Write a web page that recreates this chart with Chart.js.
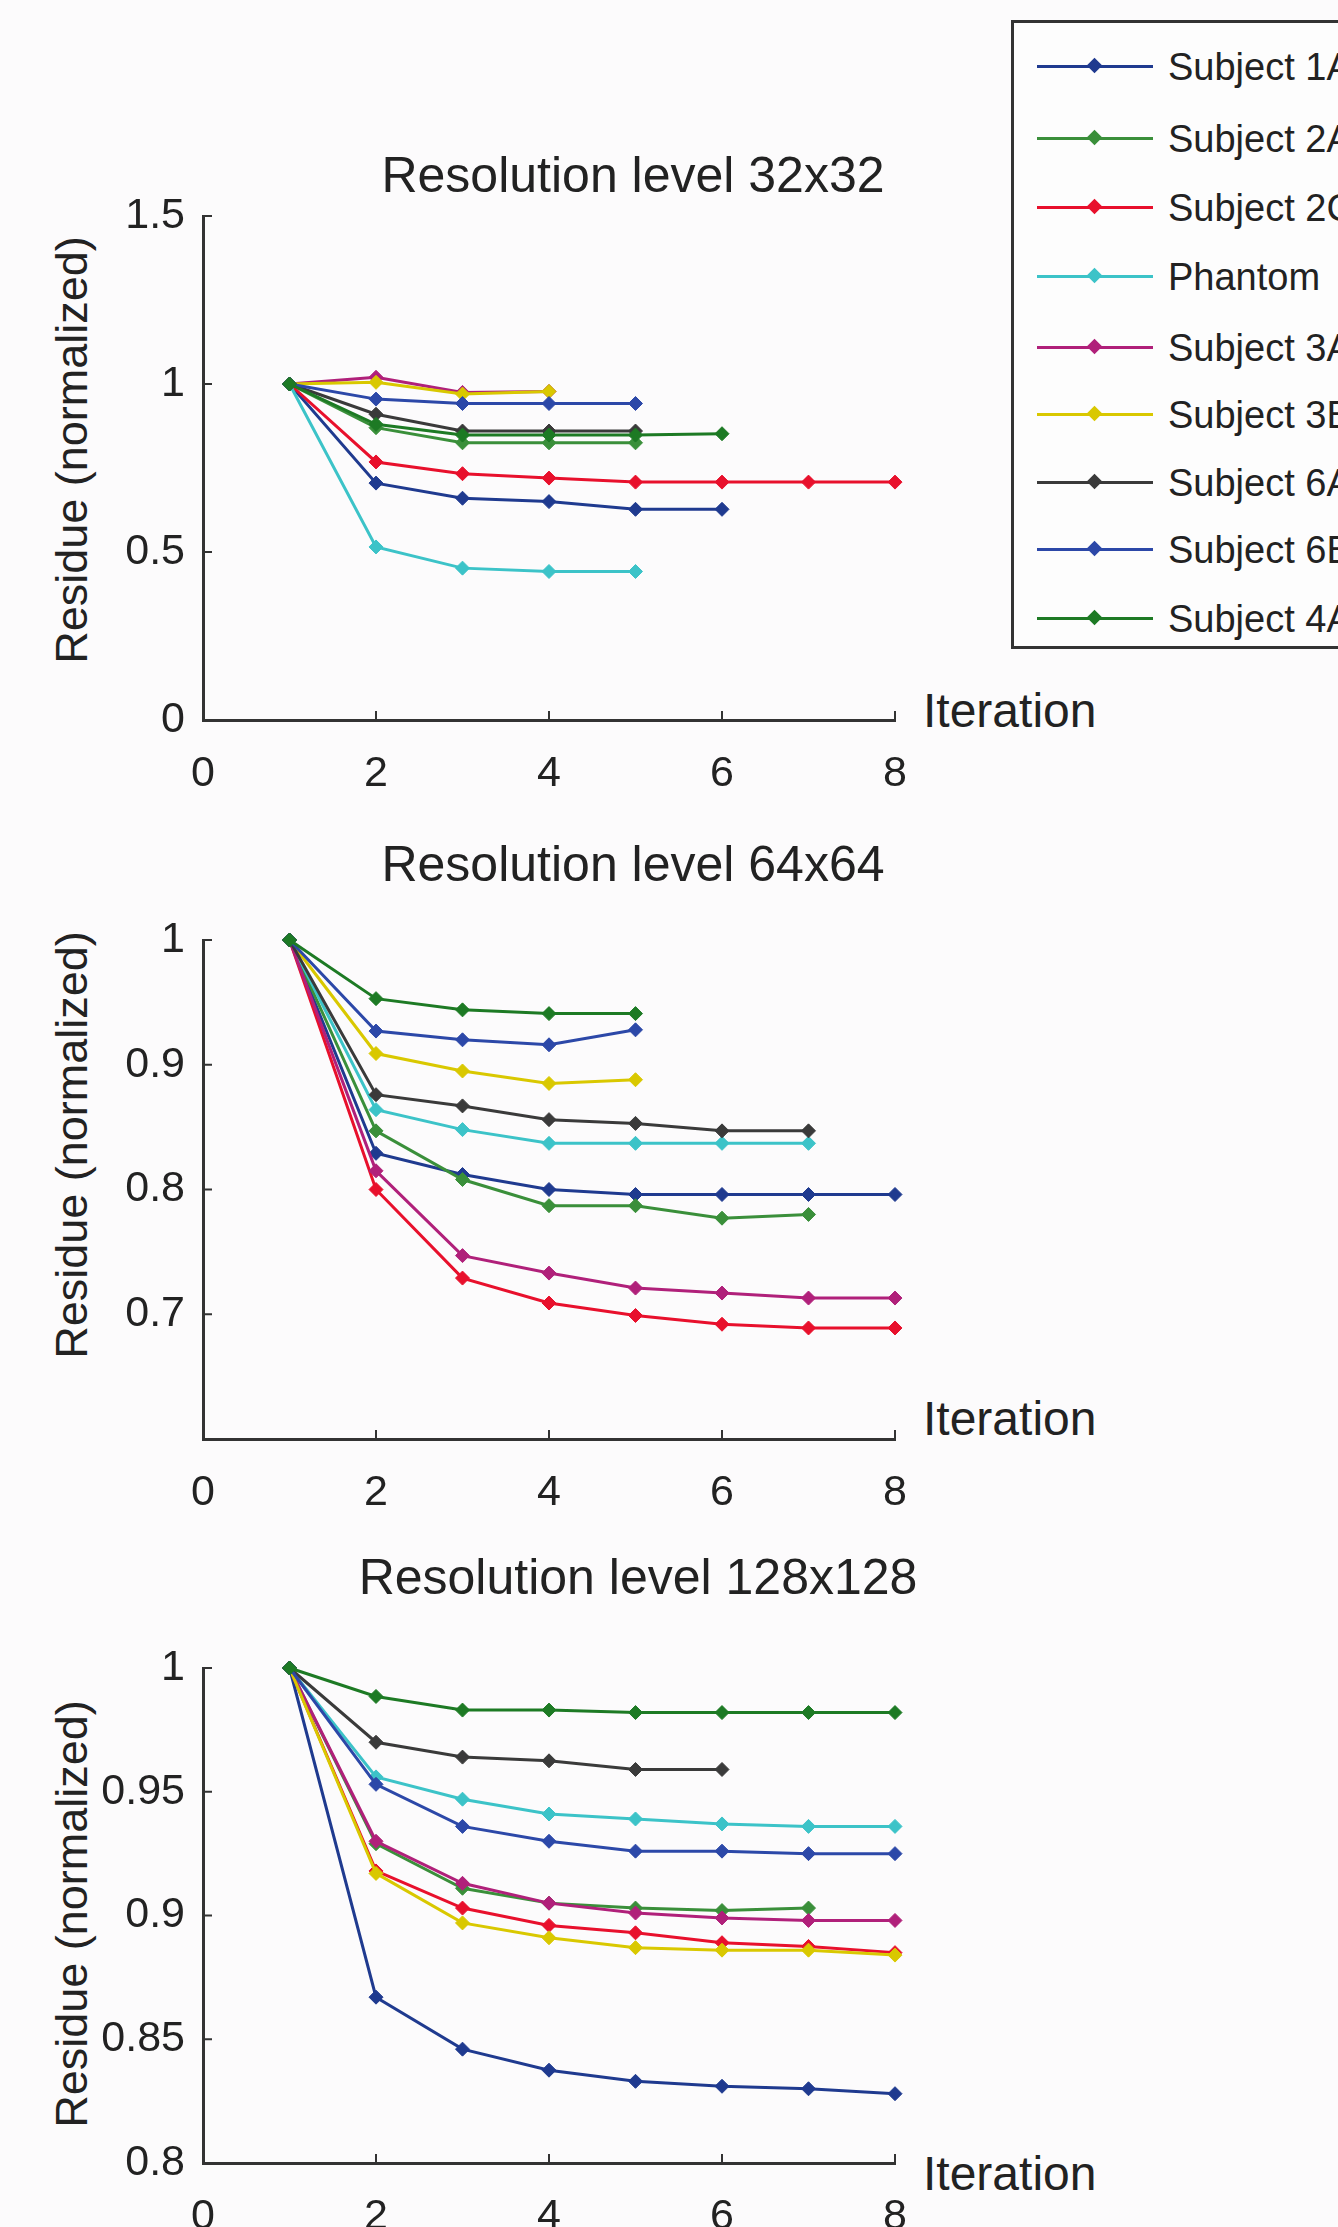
<!DOCTYPE html>
<html>
<head>
<meta charset="utf-8">
<script src="https://cdn.jsdelivr.net/npm/chart.js@4.4.0/dist/chart.umd.min.js"></script>
<style>
  body { margin: 0; width: 1338px; height: 2227px; overflow: hidden; position: relative;
         background: #fcfbfc; font-family: "Liberation Sans", Arial, sans-serif; color: #222; }
  canvas { position: absolute; left: 0; }
  .title { position: absolute; font-size: 50px; white-space: nowrap; transform: translate(-50%, -50%); }
  .ylabel { position: absolute; font-size: 45px; white-space: nowrap; transform: translate(-50%, -50%) rotate(-90deg); }
  .xlabel { position: absolute; font-size: 48px; white-space: nowrap; transform: translateY(-50%); }
  #legend { position: absolute; left: 1011px; top: 20px; width: 420px; height: 623px;
            border: 3px solid #333; background: #fdfdfd; }
  .entry { position: absolute; left: 0; height: 40px; width: 420px; }
  .entry .line { position: absolute; left: 23px; width: 116px; top: 18px; height: 3px; }
  .entry .dot { position: absolute; left: 75px; top: 13px; width: 11px; height: 11px; transform: rotate(45deg); }
  .entry span { position: absolute; left: 154px; top: 0; font-size: 38px; line-height: 40px; }
</style>
</head>
<body>

<div class="title" style="left:633px; top:175px;">Resolution level 32x32</div>
<div class="title" style="left:633px; top:864px;">Resolution level 64x64</div>
<div class="title" style="left:638px; top:1577px;">Resolution level 128x128</div>

<div class="ylabel" style="left:72px; top:450px;">Residue (normalized)</div>
<div class="ylabel" style="left:72px; top:1145px;">Residue (normalized)</div>
<div class="ylabel" style="left:72px; top:1914px;">Residue (normalized)</div>

<div class="xlabel" style="left:923px; top:710px;">Iteration</div>
<div class="xlabel" style="left:923px; top:1418px;">Iteration</div>
<div class="xlabel" style="left:923px; top:2173px;">Iteration</div>

<canvas id="c32" width="1338" height="840" style="top:0px"></canvas>
<canvas id="c64" width="1338" height="700" style="top:840px"></canvas>
<canvas id="c128" width="1338" height="687" style="top:1540px"></canvas>

<div id="legend"></div>

<script>
// Iteration numbers (x values)
const iterations = [1, 2, 3, 4, 5, 6, 7, 8];

// Series, in legend order
const seriesNames = ['Subject 1A', 'Subject 2A', 'Subject 2C', 'Phantom', 'Subject 3A',
                     'Subject 3B', 'Subject 6A', 'Subject 6B', 'Subject 4A'];
const seriesColors = ['#1f3a8f', '#3a8f3a', '#e8102c', '#3cc3c8', '#b0207a',
                      '#d9c800', '#3a3a3a', '#2c48a8', '#1d7a24'];

// Resolution level 32x32 (same order as seriesNames)
const res32 = [
    [1, 0.705, 0.66, 0.65, 0.627, 0.627],
    [1, 0.87, 0.825, 0.825, 0.825],
    [1, 0.768, 0.733, 0.72, 0.708, 0.708, 0.708, 0.708],
    [1, 0.515, 0.452, 0.442, 0.442],
    [1, 1.02, 0.975, 0.978],
    [1, 1.005, 0.97, 0.978],
    [1, 0.91, 0.86, 0.86, 0.86],
    [1, 0.955, 0.942, 0.942, 0.942],
    [1, 0.88, 0.848, 0.848, 0.848, 0.852]
];

// Resolution level 64x64
const res64 = [
    [1, 0.829, 0.812, 0.8, 0.796, 0.796, 0.796, 0.796],
    [1, 0.847, 0.808, 0.787, 0.787, 0.777, 0.78],
    [1, 0.8, 0.729, 0.709, 0.699, 0.692, 0.689, 0.689],
    [1, 0.864, 0.848, 0.837, 0.837, 0.837, 0.837],
    [1, 0.815, 0.747, 0.733, 0.721, 0.717, 0.713, 0.713],
    [1, 0.909, 0.895, 0.885, 0.888],
    [1, 0.876, 0.867, 0.856, 0.853, 0.847, 0.847],
    [1, 0.927, 0.92, 0.916, 0.928],
    [1, 0.953, 0.944, 0.941, 0.941]
];

// Resolution level 128x128
const res128 = [
    [1, 0.867, 0.846, 0.8375, 0.833, 0.831, 0.83, 0.828],
    [1, 0.929, 0.911, 0.905, 0.903, 0.902, 0.903],
    [1, 0.918, 0.903, 0.896, 0.893, 0.889, 0.8875, 0.885],
    [1, 0.956, 0.947, 0.941, 0.939, 0.937, 0.936, 0.936],
    [1, 0.93, 0.913, 0.905, 0.901, 0.899, 0.898, 0.898],
    [1, 0.917, 0.897, 0.891, 0.887, 0.886, 0.886, 0.884],
    [1, 0.97, 0.964, 0.9625, 0.959, 0.959],
    [1, 0.953, 0.936, 0.93, 0.926, 0.926, 0.925, 0.925],
    [1, 0.9885, 0.983, 0.983, 0.982, 0.982, 0.982, 0.982]
];

const axisColor = '#333';
const tickFont = { family: '"Liberation Sans", Arial, sans-serif', size: 43 };

// MATLAB style tick marks pointing into the plot
const inwardTicks = {
    id: 'inwardTicks',
    afterDraw(chart) {
        const ctx = chart.ctx;
        const area = chart.chartArea;
        const xs = chart.scales.x;
        const ys = chart.scales.y;
        ctx.save();
        ctx.strokeStyle = axisColor;
        ctx.lineWidth = 2;
        ctx.beginPath();
        xs.ticks.forEach(t => {
            const px = xs.getPixelForValue(t.value);
            ctx.moveTo(px, area.bottom);
            ctx.lineTo(px, area.bottom - 9);
        });
        ys.ticks.forEach(t => {
            const py = ys.getPixelForValue(t.value);
            ctx.moveTo(area.left, py);
            ctx.lineTo(area.left + 9, py);
        });
        ctx.stroke();
        ctx.restore();
    }
};

function makeChart(id, rows, yMin, yMax, yStep, padTop, xAxisHeight, hideMinTick) {
    const datasets = rows.map((vals, i) => ({
        label: seriesNames[i],
        data: vals.map((v, j) => ({ x: iterations[j], y: v })),
        borderColor: seriesColors[i],
        backgroundColor: seriesColors[i],
        borderWidth: 3,
        pointStyle: 'rectRot',
        pointRadius: 7,
        pointBorderWidth: 1,
        pointBorderColor: seriesColors[i],
        order: rows.length - i,
        clip: false
    }));

    return new Chart(document.getElementById(id), {
        type: 'line',
        data: { datasets: datasets },
        plugins: [inwardTicks],
        options: {
            responsive: false,
            animation: false,
            layout: { padding: { left: 0, right: 443, top: padTop, bottom: 0 } },
            plugins: { legend: { display: false }, tooltip: { enabled: false } },
            scales: {
                x: {
                    type: 'linear',
                    min: 0,
                    max: 8,
                    grid: { display: false },
                    border: { display: true, color: axisColor, width: 3 },
                    ticks: { stepSize: 2, padding: 20, font: tickFont, color: '#222', maxRotation: 0 },
                    afterFit: scale => { scale.height = xAxisHeight; }
                },
                y: {
                    type: 'linear',
                    min: yMin,
                    max: yMax,
                    grid: { display: false },
                    border: { display: true, color: axisColor, width: 3 },
                    ticks: {
                        stepSize: yStep,
                        padding: 10,
                        font: tickFont,
                        color: '#222',
                        callback: v => String(+v.toFixed(3))
                    },
                    afterBuildTicks: scale => {
                        if (hideMinTick) scale.ticks = scale.ticks.filter(t => t.value > yMin + 1e-6);
                    },
                    afterFit: scale => { scale.width = 203; }
                }
            }
        }
    });
}

makeChart('c32', res32, 0, 1.5, 0.5, 216, 120, false);
makeChart('c64', res64, 0.6, 1.0, 0.1, 100, 101, true);
makeChart('c128', res128, 0.8, 1.0, 0.05, 128, 64, false);

// Legend
const legend = document.getElementById('legend');
const entryTops = [44, 116, 185, 254, 325, 392, 460, 527, 596];
seriesNames.forEach((name, i) => {
    const row = document.createElement('div');
    row.className = 'entry';
    row.style.top = (entryTops[i] - 20) + 'px';
    row.innerHTML = `<div class="line" style="background:${seriesColors[i]}"></div>` +
                    `<div class="dot" style="background:${seriesColors[i]}"></div>` +
                    `<span>${name}</span>`;
    legend.appendChild(row);
});
</script>
</body>
</html>
